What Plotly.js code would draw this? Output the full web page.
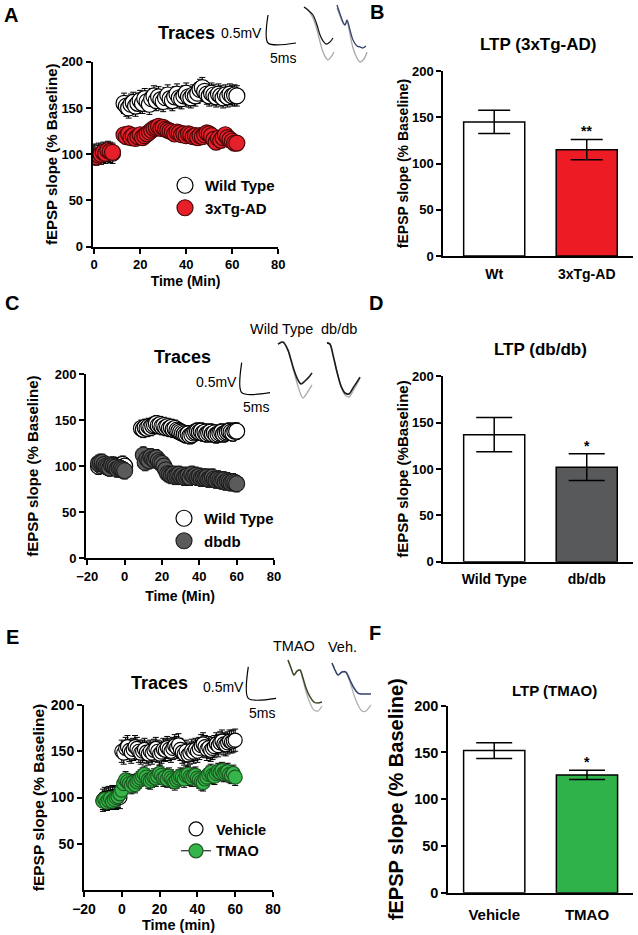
<!DOCTYPE html>
<html><head><meta charset="utf-8">
<script src="https://cdn.plot.ly/plotly-3.0.1.min.js"></script>
<style>html,body{margin:0;padding:0;background:#fff}#chart{width:638px;height:935px}</style>
</head><body><div id="chart"></div>
<script>
// ---------- Panel A: 3xTg-AD time course ----------
const a_wt_x  = [0,1,2,3,4,5,6,7,8, 13,14,15,16,17,18,19,20,21,22,23,24,25,26,27,28,29,30,31,32,33,34,35,36,37,38,39,40,41,42,43,44,45,46,47,48,49,50,51,52,53,54,55,56,57,58,59,60,61,62];
const a_wt_y  = [100,99,101,100,102,101,103,102,101, 155,152,150,154,156,152,155,158,155,160,157,154,160,163,158,162,159,157,161,164,160,158,162,165,161,160,163,166,162,161,164,163,166,170,172,168,165,163,166,164,162,165,163,161,164,162,165,163,164,163];
const a_wt_sem = 11;
const a_tg_x  = [0,1,2,3,4,5,6,7,8, 13,14,15,16,17,18,19,20,21,22,23,24,25,26,27,28,29,30,31,32,33,34,35,36,37,38,39,40,41,42,43,44,45,46,47,48,49,50,51,52,53,54,55,56,57,58,59,60,61,62];
const a_tg_y  = [98,97,99,100,102,101,104,103,102, 121,119,122,118,120,117,119,121,118,120,122,124,126,128,129,130,128,129,127,126,125,124,122,124,123,121,122,120,122,121,119,120,118,120,119,121,123,122,120,116,113,117,115,118,121,118,116,114,112,112];
const a_tg_sem = 6;
const a_names = ['Wild Type','3xTg-AD'];

// ---------- Panel B: LTP bars (3xTg-AD) ----------
const b_cats = ['Wt','3xTg-AD'];
const b_vals = [145, 115];
const b_err  = [12.5, 11];
const b_sig  = '**';

// ---------- Panel C: db/db time course ----------
const c_wt_x = [-14,-13,-12,-11,-10,-9,-8,-7,-6,-5,-4,-3,-2,-1,0, 9,10,11,12,13,14,15,16,17,18,19,20,21,22,23,24,25,26,27,28,29,30,31,32,33,34,35,36,37,38,39,40,41,42,43,44,45,46,47,48,49,50,51,52,53,54,55,56,57,58,59,60];
const c_wt_y = [100,101,103,102,101,100,99,100,101,100,99,100,101,102,100, 141,140,142,141,143,142,144,145,146,144,145,143,144,142,143,141,142,140,141,139,138,137,136,135,134,135,133,134,136,137,138,137,138,136,137,135,136,137,135,136,134,135,136,137,135,136,137,138,137,136,138,138];
const c_wt_sem = 9;
const c_db_x = [-14,-13,-12,-11,-10,-9,-8,-7,-6,-5,-4,-3,-2,-1,0, 10,11,12,13,14,15,16,17,18,19,20,21,22,23,24,25,26,27,28,29,30,31,32,33,34,35,36,37,38,39,40,41,42,43,44,45,46,47,48,49,50,51,52,53,54,55,56,57,58,59,60];
const c_db_y = [103,104,104,102,100,99,98,101,100,99,97,98,97,96,95, 112,104,108,106,110,108,107,109,106,104,103,100,96,92,91,90,91,89,90,91,89,90,88,89,90,88,91,89,90,88,89,87,88,87,88,86,87,88,86,85,86,85,84,85,83,84,83,82,83,82,81];
const c_db_sem = 9;
const c_names = ['Wild Type','dbdb'];

// ---------- Panel D: LTP bars (db/db) ----------
const d_cats = ['Wild Type','db/db'];
const d_vals = [137, 102];
const d_err  = [18.5, 14.5];
const d_sig  = '*';

// ---------- Panel E: TMAO time course ----------
const e_veh_x = [-10,-9,-8,-7,-6,-5,-4,-3,-2,-1, 0,1,2,3,4,5,6,7,8,9,10,11,12,13,14,15,16,17,18,19,20,21,22,23,24,25,26,27,28,29,30,31,32,33,34,35,36,37,38,39,40,41,42,43,44,45,46,47,48,49,50,51,52,53,54,55,56,57,58,59,60];
const e_veh_y = [97,99,98,100,99,101,100,99,101,100, 150,148,153,155,151,149,152,155,153,150,148,150,152,149,147,150,148,151,153,150,147,149,152,151,154,152,150,153,156,154,157,152,149,147,150,146,148,151,149,152,150,153,156,158,155,152,154,151,153,155,158,156,159,161,158,157,159,161,160,161,162];
const e_veh_sem = 12;
const e_tmao_x = [-10,-9,-8,-7,-6,-5,-4,-3,-2,-1,0,1,2,3,4,5,6,7,8,9,10,11,12,13,14,15,16,17,18,19,20,21,22,23,24,25,26,27,28,29,30,31,32,33,34,35,36,37,38,39,40,41,42,43,44,45,46,47,48,49,50,51,52,53,54,55,56,57,58,59,60];
const e_tmao_y = [96,98,95,97,99,96,98,100,101,104,108,115,119,117,115,113,116,114,117,119,121,123,125,122,119,118,120,122,121,123,126,124,121,122,120,123,121,119,117,119,121,123,122,120,124,125,122,121,123,124,121,119,117,116,120,122,125,127,124,123,126,128,127,129,126,127,128,125,124,126,122];
const e_tmao_sem = 9;
const e_names = ['Vehicle','TMAO'];

// ---------- Panel F: LTP bars (TMAO) ----------
const f_cats = ['Vehicle','TMAO'];
const f_vals = [152, 126];
const f_err  = [8.5, 5];
const f_sig  = '*';

// ---------- Example fEPSP traces (ms, mV relative to scale-bar corner) ----------
const scale_t = [0, 0, 5];          // 5 ms
const scale_v = [0.5, 0, 0];        // 0.5 mV
const ta_wt_t    = [6.43,7.14,8.04,8.75,9.29,9.82,10.36,11.07,11.61];
const ta_wt_base = [0.643,0.589,0.5,0.321,0.143,0.036,-0.018,0.018,0.089];
const ta_wt_pt   = [6.43,7.14,8.04,8.75,9.29,9.82,10.36,10.71,11.25,11.79];
const ta_wt_post = [0.643,0.589,0.446,0.232,0.018,-0.161,-0.268,-0.304,-0.25,-0.161];
const ta_tg_t    = [12.32,12.86,13.39,13.75,14.11,14.64,15.18,15.89,16.43,16.96,17.5];
const ta_tg_base = [0.679,0.518,0.375,0.321,0.411,0.232,0.054,-0.054,-0.071,-0.089,-0.054];
const ta_tg_pt   = [12.32,12.86,13.39,13.75,14.11,14.64,15.18,15.89,16.43,17.14,17.68];
const ta_tg_post = [0.625,0.482,0.357,0.321,0.375,0.161,-0.089,-0.268,-0.339,-0.286,-0.161];

const tc_wt_t    = [6.40,7.28,8.17,8.70,9.22,9.93,10.46,11.16,11.87,12.40];
const tc_wt_base = [0.81,0.845,0.71,0.545,0.378,0.21,0.145,0.195,0.26,0.33];
const tc_wt_pt   = [6.40,7.28,8.17,8.70,9.22,9.93,10.46,10.81,11.52,12.40];
const tc_wt_post = [0.81,0.845,0.695,0.53,0.345,0.11,-0.04,-0.09,-0.005,0.13];
const tc_db_t    = [15.04,15.57,16.10,16.81,17.52,18.22,18.93,19.64,20.34,20.87];
const tc_db_base = [0.83,0.81,0.63,0.345,0.11,-0.005,-0.02,0.08,0.18,0.26];
const tc_db_post = [0.83,0.81,0.63,0.345,0.11,-0.04,-0.07,0.03,0.145,0.245];

const te_tm_t    = [7.17,7.71,8.25,8.79,9.33,9.87,10.42,11.14,11.86,12.58,13.30];
const te_tm_base = [0.608,0.481,0.37,0.433,0.449,0.322,0.163,0.021,-0.059,-0.075,-0.059];
const te_tm_post = [0.608,0.481,0.37,0.433,0.449,0.29,0.1,-0.075,-0.186,-0.202,-0.122];
const te_vh_t    = [15.11,15.65,16.19,16.91,17.63,18.35,19.08,19.8,20.52,21.24,22.14];
const te_vh_base = [0.56,0.449,0.37,0.417,0.417,0.29,0.163,0.084,0.068,0.068,0.068];
const te_vh_post = [0.56,0.449,0.37,0.417,0.402,0.259,0.052,-0.106,-0.202,-0.202,-0.106];

// ---------- layout helpers ----------
const W = 638, H = 935;
const FF = '"Liberation Sans", Arial, Helvetica, sans-serif';
const dX = (a, b) => [a / W, b / W];
const dY = (top, bottom) => [1 - bottom / H, 1 - top / H];
const PX = x => x / W, PY = y => 1 - y / H;
const bold = (size) => ({family: FF, size: size, color: '#000', weight: 'bold'});
const norm = (size) => ({family: FF, size: size, color: '#000'});

function linAx(domain, range, anchor, extra) {
  return Object.assign({
    domain: domain, range: range, anchor: anchor, showline: true, linecolor: '#000', linewidth: 2,
    ticks: 'outside', ticklen: 5, tickwidth: 2, tickcolor: '#000', showgrid: false, zeroline: false,
    tickfont: bold(13), fixedrange: true
  }, extra || {});
}
function insetAx(pxBox, corner, sx, sy, anchor) {
  const xa = {domain: dX(pxBox[0], pxBox[1]), range: [(pxBox[0]-corner[0])/sx, (pxBox[1]-corner[0])/sx],
    visible: false, fixedrange: true, anchor: anchor};
  const ya = {domain: dY(pxBox[2], pxBox[3]), range: [(corner[1]-pxBox[3])/sy, (corner[1]-pxBox[2])/sy],
    visible: false, fixedrange: true};
  return [xa, ya];
}

const traces = [];
function scat(x, y, sem, name, fill, edge, size, xa, ya, leg, extra) {
  traces.push(Object.assign({
    type: 'scatter', mode: 'markers', x: x, y: y, name: name, xaxis: xa, yaxis: ya, legend: leg,
    marker: {symbol: 'circle', size: size, color: fill, line: {color: edge, width: 1.2}},
    error_y: {type: 'constant', value: sem, color: '#000', thickness: 1, width: 3}
  }, extra || {}));
}
function bars(cats, vals, err, colors, xa, ya, capw) {
  traces.push({type: 'bar', x: cats, y: vals, xaxis: xa, yaxis: ya, showlegend: false, width: 0.66,
    marker: {color: colors, line: {color: '#000', width: 1.5}},
    error_y: {type: 'data', array: err, color: '#000', thickness: 1.5, width: capw}});
}
function wave(t, v, color, xa, ya, w) {
  traces.push({type: 'scatter', mode: 'lines', x: t, y: v, xaxis: xa, yaxis: ya, showlegend: false,
    line: {color: color, width: w || 1.3, shape: 'spline', smoothing: 0.8}, hoverinfo: 'skip'});
}

// A
scat(a_wt_x, a_wt_y, a_wt_sem, a_names[0], '#ffffff', '#000000', 16, 'x', 'y', 'legend');
scat(a_tg_x, a_tg_y, a_tg_sem, a_names[1], '#e5202a', '#4a0808', 16, 'x', 'y', 'legend');
// B
bars(b_cats, b_vals, b_err, ['#ffffff', '#ed1c24'], 'x2', 'y2', 16);
// C
scat(c_wt_x, c_wt_y, c_wt_sem, c_names[0], '#ffffff', '#000000', 16, 'x3', 'y3', 'legend2');
scat(c_db_x, c_db_y, c_db_sem, c_names[1], '#5b5b5b', '#1e1e1e', 16, 'x3', 'y3', 'legend2');
// D
bars(d_cats, d_vals, d_err, ['#ffffff', '#58595b'], 'x4', 'y4', 18);
// E
scat(e_veh_x, e_veh_y, e_veh_sem, e_names[0], '#ffffff', '#000000', 14, 'x5', 'y5', 'legend3');
scat(e_tmao_x, e_tmao_y, e_tmao_sem, e_names[1], '#35b54a', '#1d5a22', 14, 'x5', 'y5', 'legend3',
  {mode: 'lines+markers', line: {color: '#000', width: 1}});
// F
bars(f_cats, f_vals, f_err, ['#ffffff', '#2fb24a'], 'x6', 'y6', 18);

// insets: scale bars + traces
wave(scale_t, scale_v, '#000', 'x7', 'y7', 1.2);
wave(ta_wt_pt, ta_wt_post, '#a8a8a8', 'x7', 'y7');
wave(ta_wt_t, ta_wt_base, '#1a1a1a', 'x7', 'y7');
wave(ta_tg_pt, ta_tg_post, '#a8a8a8', 'x7', 'y7');
wave(ta_tg_t, ta_tg_base, '#34426e', 'x7', 'y7');
wave(scale_t, scale_v, '#000', 'x8', 'y8', 1.2);
wave(tc_wt_pt, tc_wt_post, '#a8a8a8', 'x8', 'y8');
wave(tc_wt_t, tc_wt_base, '#1a1a1a', 'x8', 'y8', 1.6);
wave(tc_db_t, tc_db_post, '#a8a8a8', 'x8', 'y8');
wave(tc_db_t, tc_db_base, '#1a1a1a', 'x8', 'y8', 1.6);
wave(scale_t, scale_v, '#000', 'x9', 'y9', 1.2);
wave(te_tm_t, te_tm_post, '#b0b0b0', 'x9', 'y9');
wave(te_tm_t, te_tm_base, '#3a4a28', 'x9', 'y9', 1.5);
wave(te_vh_t, te_vh_post, '#b0b0b0', 'x9', 'y9');
wave(te_vh_t, te_vh_base, '#34426e', 'x9', 'y9', 1.5);

const catAx = (domain, range, anchor, size, tl) => ({domain: domain, range: range, anchor: anchor, type: 'category',
  showline: true, linecolor: '#000', linewidth: 2, ticks: 'outside', ticklen: tl, tickcolor: 'rgba(0,0,0,0)',
  showgrid: false, zeroline: false, tickfont: bold(size), fixedrange: true});

const i7 = insetAx([262, 372, 0, 68], [268, 43], 5.6, 56, 'y7');
const i8 = insetAx([236, 366, 333, 402], [241.7, 392.7], 5.67, 60, 'y8');
const i9 = insetAx([242, 376, 655, 718], [248.3, 698.3], 5.54, 63, 'y9');

const ytitle = 'fEPSP slope (% Baseline)';
const layout = {
  width: W, height: H, margin: {l: 0, r: 0, t: 0, b: 0}, paper_bgcolor: '#fff', plot_bgcolor: 'rgba(0,0,0,0)',
  showlegend: true, font: {family: FF, color: '#000'},
  // A
  xaxis: linAx(dX(92.7, 278.3), [-0.6, 80], 'y', {tickvals: [0, 20, 40, 60, 80],
    title: {text: 'Time (Min)', font: bold(14), standoff: 5}}),
  yaxis: linAx(dY(61.7, 246.7), [0, 200], 'x', {tickvals: [0, 50, 100, 150, 200],
    title: {text: ytitle, font: bold(15), standoff: 0}}),
  // B
  xaxis2: catAx(dX(443.3, 633), [-0.55, 1.5], 'y2', 14, 4),
  yaxis2: linAx(dY(71, 256), [0, 200], 'x2', {tickvals: [0, 50, 100, 150, 200],
    title: {text: ytitle, font: bold(14), standoff: 0}}),
  // C
  xaxis3: linAx(dX(86, 274), [-20.7, 80], 'y3', {tickvals: [-20, 0, 20, 40, 60, 80],
    title: {text: 'Time (Min)', font: bold(14), standoff: 8}}),
  yaxis3: linAx(dY(374, 558.3), [0, 200], 'x3', {tickvals: [0, 50, 100, 150, 200],
    title: {text: ytitle, font: bold(15), standoff: 12}}),
  // D
  xaxis4: catAx(dX(443.3, 633), [-0.55, 1.5], 'y4', 14, 3),
  yaxis4: linAx(dY(376.3, 561.7), [0, 200], 'x4', {tickvals: [0, 50, 100, 150, 200],
    title: {text: 'fEPSP slope (%Baseline)', font: bold(15), standoff: 0}}),
  // E
  xaxis5: linAx(dX(84, 273), [-20, 80], 'y5', {tickvals: [-20, 0, 20, 40, 60, 80], tickfont: bold(14),
    title: {text: 'Time (min)', font: bold(14.5), standoff: 0}}),
  yaxis5: linAx(dY(705, 890), [0, 200], 'x5', {tickvals: [50, 100, 150, 200], tickfont: bold(14),
    title: {text: ytitle, font: bold(15.5), standoff: 2}}),
  // F
  xaxis6: catAx(dX(448.3, 633), [-0.495, 1.496], 'y6', 15, 7),
  yaxis6: linAx(dY(705.7, 892.7), [0, 200], 'x6', {tickvals: [0, 50, 100, 150, 200], tickfont: bold(14.5),
    title: {text: ytitle, font: bold(20), standoff: 5}}),
  // insets
  xaxis7: i7[0], yaxis7: i7[1], xaxis8: i8[0], yaxis8: i8[1], xaxis9: i9[0], yaxis9: i9[1],
  legend:  {x: PX(165), y: PY(169), xanchor: 'left', yanchor: 'top', bgcolor: 'rgba(0,0,0,0)', font: bold(15), tracegroupgap: 0, itemclick: false},
  legend2: {x: PX(164), y: PY(502), xanchor: 'left', yanchor: 'top', bgcolor: 'rgba(0,0,0,0)', font: bold(15), tracegroupgap: 0, itemclick: false},
  legend3: {x: PX(176), y: PY(813), xanchor: 'left', yanchor: 'top', bgcolor: 'rgba(0,0,0,0)', font: bold(14.5), tracegroupgap: 0, itemclick: false},
  annotations: []
};

function ann(text, x, y, font, xanchor) {
  layout.annotations.push({text: text, x: PX(x), y: PY(y), xref: 'paper', yref: 'paper', showarrow: false,
    xanchor: xanchor || 'center', yanchor: 'middle', font: font});
}
// panel letters
ann('A', 11, 15, bold(20)); ann('B', 377, 12, bold(20)); ann('C', 12, 303, bold(20));
ann('D', 376, 303, bold(20)); ann('E', 12.5, 636.5, bold(20)); ann('F', 375, 632.5, bold(20));
// inset labels
ann('Traces', 187, 33, bold(18)); ann('Traces', 182, 357, bold(18)); ann('Traces', 160, 683, bold(18));
ann('0.5mV', 264, 33, norm(14), 'right'); ann('0.5mV', 239, 382, norm(14), 'right'); ann('0.5mV', 246, 687, norm(14), 'right');
ann('5ms', 283, 58, norm(14)); ann('5ms', 256, 407, norm(14)); ann('5ms', 262, 713, norm(14));
ann('Wild Type', 281.5, 329, norm(14.5)); ann('db/db', 339, 329, norm(14.5));
ann('TMAO', 294, 646, norm(14.5)); ann('Veh.', 342, 647, norm(14.5));
// bar titles
ann('LTP (3xTg-AD)', 538, 45, bold(17)); ann('LTP (db/db)', 540, 349, bold(17)); ann('LTP (TMAO)', 554, 690, bold(15));
// significance marks above the second bar
layout.annotations.push({text: b_sig, x: b_cats[1], y: b_vals[1] + b_err[1], xref: 'x2', yref: 'y2', showarrow: false, yanchor: 'bottom', yshift: -2, font: bold(14)});
layout.annotations.push({text: d_sig, x: d_cats[1], y: d_vals[1] + d_err[1], xref: 'x4', yref: 'y4', showarrow: false, yanchor: 'bottom', yshift: -2, font: bold(14)});
layout.annotations.push({text: f_sig, x: f_cats[1], y: f_vals[1] + f_err[1], xref: 'x6', yref: 'y6', showarrow: false, yanchor: 'bottom', yshift: -2, font: bold(14)});

Plotly.newPlot('chart', traces, layout, {displayModeBar: false, staticPlot: true});
</script>
</body></html>
